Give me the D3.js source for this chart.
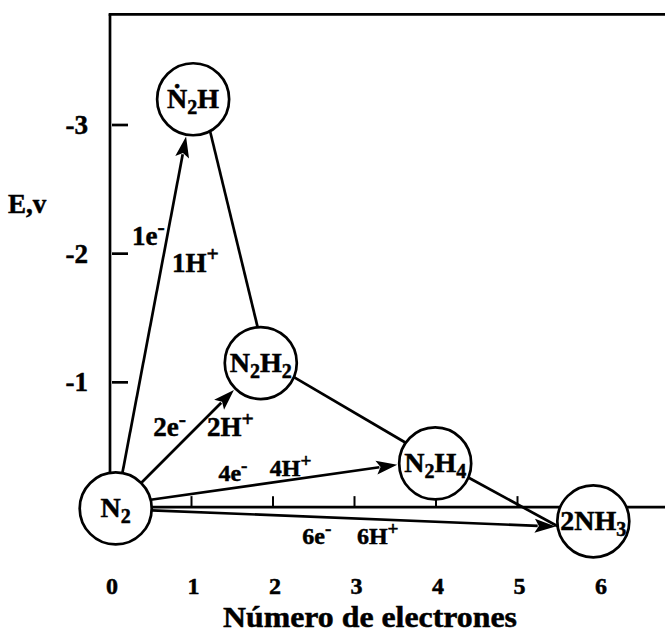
<!DOCTYPE html>
<html><head><meta charset="utf-8">
<script src="https://cdn.jsdelivr.net/npm/d3@7"></script>
<style>body{margin:0;background:#fff}svg{display:block}</style>
</head><body><svg id="c" width="665" height="634"></svg>
<script>
// ---------- data ----------
const electronTicks = [0, 1, 2, 3, 4, 5, 6];
const energyTicks = [-3, -2, -1];
const energyTickLabels = ["-3", "-2", "-1"];
const xTitle = "Número de electrones";
const yTitle = "E,v";

const species = ["N2", "N2H", "N2H2", "N2H4", "2NH3"];
const speciesElectrons = [0.07, 1.02, 1.85, 3.99, 5.93];
const speciesEnergy = [-0.02, -3.20, -1.15, -0.37, 0.08];
// label parts: [text, isSubscript]
const speciesLabels = [
  [["N", 0], ["2", 1]],
  [["\u1E44", 0], ["2", 1], ["H", 0]],
  [["N", 0], ["2", 1], ["H", 0], ["2", 1]],
  [["N", 0], ["2", 1], ["H", 0], ["4", 1]],
  [["2NH", 0], ["3", 1]]
];

const edgeFrom  = ["N2", "N2H", "N2", "N2H2", "N2", "N2", "N2H4"];
const edgeTo    = ["N2H", "N2H2", "N2H2", "N2H4", "N2H4", "2NH3", "2NH3"];
const edgeArrow = [true, false, true, false, true, true, false];

const reactionText = ["1e", "1H", "2e", "2H", "4e", "4H", "6e", "6H"];
const reactionSup  = ["-", "+", "-", "+", "-", "+", "-", "+"];
const reactionElectrons = [0.27, 0.76, 0.53, 1.19, 1.33, 1.96, 2.36, 3.03];
const reactionEnergy    = [-2.07, -1.86, -0.58, -0.58, -0.23, -0.27, 0.26, 0.26];
const baselineEnergy = -0.03;
const frameTopEnergy = -3.86;

// ---------- layout ----------
const W = 665, H = 634;
const svg = d3.select("#c");
const x = d3.scaleLinear().domain([0, 6]).range([110, 599]);
const y = d3.scaleLinear().domain([0, -3]).range([511, 125]);
const R = 36;
const font = "'Liberation Serif','Times New Roman',serif";
const lw = 2.7;
const textStroke = 0.5;
// optional port angles (degrees, y down) per edge index: [fromAngle, toAngle]
const ports = {1: [62, 265], 3: [23, 215], 4: [-14, 178], 5: [3, 172], 6: [23, 172]};

function boldText(sel, size) {
  return sel.attr("font-family", font).attr("font-weight", "bold").attr("font-size", size)
    .attr("fill", "#000").attr("stroke", "#000").attr("stroke-width", textStroke);
}

const nodePos = {};
species.forEach((s, i) => nodePos[s] = {cx: x(speciesElectrons[i]), cy: y(speciesEnergy[i])});

// frame: top border and left axis
svg.append("line").attr("x1", x(0) - lw / 2).attr("x2", W).attr("y1", y(frameTopEnergy)).attr("y2", y(frameTopEnergy))
  .attr("stroke", "#000").attr("stroke-width", lw);
svg.append("line").attr("x1", x(0)).attr("x2", x(0)).attr("y1", y(frameTopEnergy)).attr("y2", nodePos["N2"].cy)
  .attr("stroke", "#000").attr("stroke-width", lw);

// y ticks
energyTicks.forEach((v, i) => {
  svg.append("line").attr("x1", x(0) + 2).attr("x2", x(0) + 18).attr("y1", y(v)).attr("y2", y(v))
    .attr("stroke", "#000").attr("stroke-width", lw);
  boldText(svg.append("text").attr("x", 88).attr("y", y(v) + 9).attr("text-anchor", "end"), 27)
    .text(energyTickLabels[i]);
});
boldText(svg.append("text").attr("x", 8).attr("y", 213), 27).text(yTitle);

// baseline (zero line) with upward ticks
const by = y(baselineEnergy);
svg.append("line").attr("x1", nodePos["N2"].cx).attr("x2", W).attr("y1", by).attr("y2", by)
  .attr("stroke", "#000").attr("stroke-width", lw);
electronTicks.filter(v => v > 0 && v < 6).forEach(v => {
  svg.append("line").attr("x1", x(v)).attr("x2", x(v)).attr("y1", by).attr("y2", by - 11)
    .attr("stroke", "#000").attr("stroke-width", 2);
});

// x tick labels & title
electronTicks.forEach(v => {
  boldText(svg.append("text").attr("x", x(v) + 2).attr("y", 594).attr("text-anchor", "middle"), 24).text(v);
});
boldText(svg.append("text").attr("x", x(3.19)).attr("y", 627).attr("text-anchor", "middle"), 30)
  .attr("textLength", 294).attr("lengthAdjust", "spacingAndGlyphs").text(xTitle);

// edges
function portPoint(n, ang, rr) {
  const a = ang * Math.PI / 180;
  return [n.cx + rr * Math.cos(a), n.cy + rr * Math.sin(a)];
}
edgeFrom.forEach((f, i) => {
  const A = nodePos[f], B = nodePos[edgeTo[i]];
  let a1 = Math.atan2(B.cy - A.cy, B.cx - A.cx) * 180 / Math.PI;
  let a2 = Math.atan2(A.cy - B.cy, A.cx - B.cx) * 180 / Math.PI;
  if (ports[i]) { a1 = ports[i][0]; a2 = ports[i][1]; }
  const p1 = portPoint(A, a1, R);
  const p2 = portPoint(B, a2, R + (edgeArrow[i] ? 2 : 0));
  const dx = p2[0] - p1[0], dy = p2[1] - p1[1], L = Math.hypot(dx, dy);
  const ux = dx / L, uy = dy / L;
  const AL = 21, AW = 7;
  const end = edgeArrow[i] ? [p2[0] - ux * (AL - 3), p2[1] - uy * (AL - 3)] : p2;
  svg.append("line").attr("x1", p1[0]).attr("y1", p1[1]).attr("x2", end[0]).attr("y2", end[1])
    .attr("stroke", "#000").attr("stroke-width", lw);
  if (edgeArrow[i]) {
    const bx = p2[0] - ux * AL, byy = p2[1] - uy * AL;
    const pts = [[p2[0], p2[1]], [bx - uy * AW, byy + ux * AW], [p2[0] - ux * AL * 0.8, p2[1] - uy * AL * 0.8], [bx + uy * AW, byy - ux * AW]];
    svg.append("path").attr("d", "M" + pts.map(p => p.join(",")).join("L") + "Z").attr("fill", "#000");
  }
});

// nodes
species.forEach((s, i) => {
  const n = nodePos[s];
  svg.append("circle").attr("cx", n.cx).attr("cy", n.cy).attr("r", R)
    .attr("fill", "#fff").attr("stroke", "#000").attr("stroke-width", lw);
  const t = boldText(svg.append("text").attr("x", n.cx).attr("y", n.cy + 9).attr("text-anchor", "middle"), 28);
  let sub = false;
  speciesLabels[i].forEach(([txt, isSub]) => {
    const ts = t.append("tspan").text(txt);
    if (isSub && !sub) { ts.attr("dy", 6).attr("font-size", 20); sub = true; }
    else if (isSub) { ts.attr("font-size", 20); }
    else if (!isSub && sub) { ts.attr("dy", -6); sub = false; }
  });
});

// reaction labels
reactionText.forEach((txt, i) => {
  const big = i < 4;
  const fs = big ? 27 : 24;
  const t = boldText(svg.append("text").attr("x", x(reactionElectrons[i])).attr("y", y(reactionEnergy[i])), fs);
  t.append("tspan").text(txt);
  t.append("tspan").attr("dy", -fs * 0.4).attr("font-size", fs * 0.8).text(reactionSup[i]);
});
</script>
</body></html>
